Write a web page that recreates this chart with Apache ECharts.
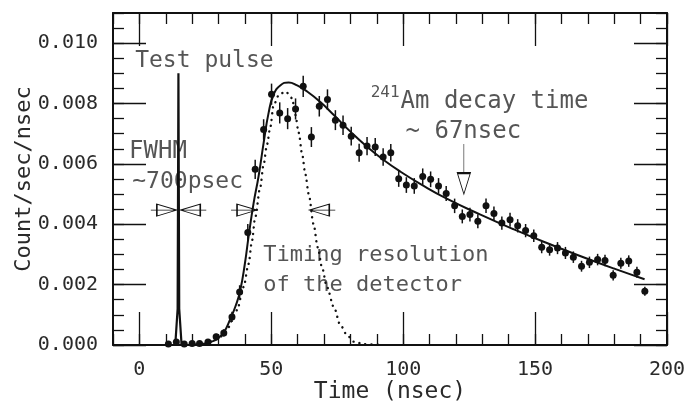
<!DOCTYPE html>
<html>
<head>
<meta charset="utf-8">
<script src="https://cdn.jsdelivr.net/npm/echarts@6/dist/echarts.min.js"></script>
<style>
  html, body { margin: 0; padding: 0; background: #fff; }
  #chart { width: 689px; height: 408px; }
</style>
</head>
<body>
<div id="chart"></div>
<script>
// measured points (time in nsec, count/sec/nsec, error)
var timeNs = [11, 14, 17, 20, 22.8, 26, 29.1, 32, 35.1, 38,
  41.1, 43.9, 47.1, 50.1, 53.2, 56.2, 59.2, 62.1, 65.2, 68.2,
  71.3, 74.3, 77.2, 80.3, 83.3, 86.3, 89.4, 92.4, 95.3, 98.3,
  101.2, 104.2, 107.4, 110.4, 113.4, 116.3, 119.5, 122.4, 125.3, 128.3,
  131.4, 134.4, 137.4, 140.5, 143.4, 146.4, 149.5, 152.5, 155.5, 158.5,
  161.5, 164.5, 167.6, 170.6, 173.7, 176.5, 179.6, 182.5, 185.5, 188.6,
  191.6]
var counts = [0.00003, 0.0001, 0.00003, 0.00005, 0.00005, 0.0001, 0.00027, 0.0004, 0.00093, 0.00176,
  0.00373, 0.00582, 0.00714, 0.00831, 0.00769, 0.0075, 0.00782, 0.00857, 0.00689, 0.00791,
  0.00813, 0.00745, 0.00728, 0.00692, 0.00637, 0.00659, 0.00656, 0.00623, 0.00637, 0.00551,
  0.0053, 0.00527, 0.00558, 0.00549, 0.00527, 0.00502, 0.00461, 0.00426, 0.00432, 0.0041,
  0.00461, 0.00436, 0.00404, 0.00415, 0.00395, 0.00379, 0.00362, 0.00324, 0.00316, 0.00321,
  0.00305, 0.00291, 0.00261, 0.00274, 0.00283, 0.0028, 0.00231, 0.00271, 0.00278, 0.00241,
  0.00178]
var errs = [0.00003, 0.00005, 0.00003, 0.00004, 0.00004, 0.00006, 0.0001, 0.00012, 0.00017, 0.00022,
  0.00028, 0.00032, 0.00034, 0.00035, 0.00035, 0.00035, 0.00035, 0.00035, 0.00033, 0.00034,
  0.00034, 0.00033, 0.00032, 0.00031, 0.0003, 0.0003, 0.0003, 0.00029, 0.00029, 0.00027,
  0.00026, 0.00026, 0.00027, 0.00026, 0.00026, 0.00025, 0.00024, 0.00023, 0.00023, 0.00023,
  0.00024, 0.00023, 0.00022, 0.00023, 0.00022, 0.00022, 0.00021, 0.0002, 0.0002, 0.0002,
  0.0002, 0.00019, 0.00018, 0.00019, 0.00019, 0.00019, 0.00017, 0.00018, 0.00019, 0.00018,
  0.00015]

// fitted curve (solid)
var fitX = [20, 24, 27, 29.5, 32, 34.4, 36.5, 38.2, 40, 41.4, 43.3, 45.2, 47.1, 49, 50.9, 53.4, 56.6,
  59.8, 63.6, 68.6, 73.7, 80, 86.3, 92.6, 99, 106.6, 116.7, 129.3, 142, 154.7, 167.3, 180, 191.5]
var fitY = [0.00001, 0.00004, 0.0001, 0.0002, 0.00042, 0.00085, 0.0013, 0.0018, 0.0027, 0.0036, 0.0047, 0.0056, 0.0067, 0.0077, 0.0083, 0.0086, 0.0087,
  0.0086, 0.0084, 0.00805, 0.00762, 0.00707, 0.00657, 0.00613, 0.00574, 0.00533, 0.00484, 0.00432, 0.00383, 0.00337, 0.00294, 0.00253, 0.00218]

// timing resolution of the detector (dotted)
var resX = [25, 30, 33, 37, 39.5, 41.4, 42.7, 43.9, 45.8, 47.1, 48.4, 49.6, 50.9, 53, 55.4, 57.9, 59.1, 60.4,
  61.7, 62.9, 64.2, 66, 67.6, 69.2, 71.1, 73.7, 76.2, 78.7, 81.3, 85, 92]
var resY = [0.00002, 0.0002, 0.0005, 0.00115, 0.00192, 0.00269, 0.00346, 0.00423, 0.00522, 0.00599, 0.00665, 0.0072, 0.00796, 0.0083, 0.0084, 0.00818, 0.00763, 0.00703,
  0.00632, 0.00566, 0.005, 0.00401, 0.00324, 0.00258, 0.00192, 0.00126, 0.00066, 0.00033, 0.00011, 0.00003, 0]

// test pulse
var pulseX = [13.6, 14.5, 14.8, 15.1, 16]
var pulseY = [0, 0.0012, 0.009, 0.0012, 0]

var xMajor = [0, 50, 100, 150, 200]
var yMajor = [0, 0.002, 0.004, 0.006, 0.008, 0.010]

var FONT = 'DejaVu Sans Mono'
var INK = '#111'
var TXT = '#2a2a2a'

function zip (a, b) {
  return a.map(function (v, i) { return [v, b[i]] })
}

var myChart = echarts.init(document.getElementById('chart'), null, { renderer: 'canvas' })

var tickStyle = { color: INK, width: 1.3 }

function xAx (pos, major) {
  return {
    type: 'value', position: pos, min: -10, max: 200,
    interval: major ? undefined : 10,
    axisLine: { show: !major, onZero: false, lineStyle: { color: INK, width: 2 } },
    axisTick: major
      ? { inside: true, length: 33, customValues: xMajor, lineStyle: tickStyle }
      : { inside: true, length: 11, lineStyle: tickStyle },
    axisLabel: (major && pos === 'bottom')
      ? { customValues: xMajor, color: TXT, fontFamily: FONT, fontSize: 20, margin: 15 }
      : { show: false },
    splitLine: { show: false },
    name: (major && pos === 'bottom') ? 'Time (nsec)' : '',
    nameLocation: 'middle', nameGap: 36, nameMoveOverlap: false,
    nameTextStyle: { color: TXT, fontFamily: FONT, fontSize: 23 }
  }
}

function yAx (pos, major) {
  return {
    type: 'value', position: pos, min: 0, max: 0.011,
    interval: major ? undefined : 0.0005,
    axisLine: { show: !major, onZero: false, lineStyle: { color: INK, width: 2 } },
    axisTick: major
      ? { inside: true, length: 33, customValues: yMajor, lineStyle: tickStyle }
      : { inside: true, length: 11, lineStyle: tickStyle },
    axisLabel: (major && pos === 'left')
      ? { customValues: yMajor, color: TXT, fontFamily: FONT, fontSize: 20, margin: 15,
          formatter: function (v) { return v.toFixed(3) } }
      : { show: false },
    splitLine: { show: false },
    name: (major && pos === 'left') ? 'Count/sec/nsec' : '',
    nameLocation: 'middle', nameGap: 78, nameMoveOverlap: false,
    nameTextStyle: { color: TXT, fontFamily: FONT, fontSize: 22 }
  }
}

// open arrow heads used for the FWHM markers
var arrowRight = 'path://M0,6 L26,6 M6,0 L26,6 L6,12 Z'
var arrowLeft = 'path://M0,6 L26,6 M20,0 L0,6 L20,12 Z'
var arrowDown = 'path://M6,0 L6,29 M0,29 L6,50 L12,29 Z'

function note (text, x, y, size) {
  return {
    name: text, value: [x, y],
    label: { fontSize: size }
  }
}

var option = {
  animation: false,
  backgroundColor: '#fff',
  grid: { left: 113, right: 22, top: 13, bottom: 63, outerBoundsMode: 'none' },
  xAxis: [xAx('bottom', false), xAx('bottom', true), xAx('top', false), xAx('top', true)],
  yAxis: [yAx('left', false), yAx('left', true), yAx('right', false), yAx('right', true)],
  series: [
    {
      type: 'custom',
      silent: true,
      renderItem: function (params, api) {
        var p1 = api.coord([api.value(0), api.value(1)])
        var p2 = api.coord([api.value(0), api.value(2)])
        return {
          type: 'line',
          shape: { x1: p1[0], y1: p1[1], x2: p2[0], y2: p2[1] },
          style: { stroke: INK, lineWidth: 1.5 }
        }
      },
      encode: { x: 0, y: [1, 2] },
      data: timeNs.map(function (t, i) { return [t, counts[i] - errs[i], counts[i] + errs[i]] })
    },
    {
      type: 'scatter',
      symbol: 'circle',
      symbolSize: 7,
      itemStyle: { color: INK, opacity: 1 },
      data: zip(timeNs, counts)
    },
    {
      type: 'line',
      showSymbol: false,
      smooth: 0.5,
      lineStyle: { color: INK, width: 2 },
      data: zip(fitX, fitY)
    },
    {
      type: 'line',
      showSymbol: false,
      smooth: 0.3,
      smoothMonotone: 'x',
      lineStyle: { color: INK, width: 2.4, type: [0.1, 6], cap: 'round' },
      data: zip(resX, resY)
    },
    {
      type: 'line',
      showSymbol: false,
      lineStyle: { color: INK, width: 2.2 },
      data: zip(pulseX, pulseY)
    },
    {
      type: 'scatter',
      symbol: arrowRight,
      symbolSize: [26, 12],
      symbolOffset: [-13, 0],
      itemStyle: { color: '#fff', borderColor: INK, borderWidth: 1.1, opacity: 1 },
      data: [[14.2, 0.00447], [44.6, 0.00447]]
    },
    {
      type: 'scatter',
      symbol: arrowLeft,
      symbolSize: [26, 12],
      symbolOffset: [13, 0],
      itemStyle: { color: '#fff', borderColor: INK, borderWidth: 1.1, opacity: 1 },
      data: [[15.5, 0.00447], [64.4, 0.00447]]
    },
    {
      type: 'scatter',
      symbol: arrowDown,
      symbolSize: [13, 50],
      symbolOffset: [0, -25],
      itemStyle: { color: '#fff', borderColor: INK, borderWidth: 1.1, opacity: 1 },
      data: [[123, 0.005]]
    },
    {
      type: 'scatter',
      symbolSize: 0,
      silent: true,
      label: {
        show: true, position: 'right', distance: 0,
        formatter: '{b}', color: TXT, fontFamily: FONT
      },
      data: [
        note('Test pulse', -1.6, 0.00942, 23),
        note('FWHM', -3.9, 0.00639, 24),
        note('~700psec', -2.7, 0.0054, 23),
        note('241', 87.7, 0.00837, 16),
        note('Am decay time', 99, 0.00806, 24),
        note('~ 67nsec', 100.9, 0.00708, 24),
        note('Timing resolution', 47, 0.00297, 22),
        note('of the detector', 47, 0.00198, 22)
      ]
    }
  ]
}

myChart.setOption(option, true)
window.addEventListener('resize', function () {
  myChart.resize()
})
</script>
</body>
</html>
